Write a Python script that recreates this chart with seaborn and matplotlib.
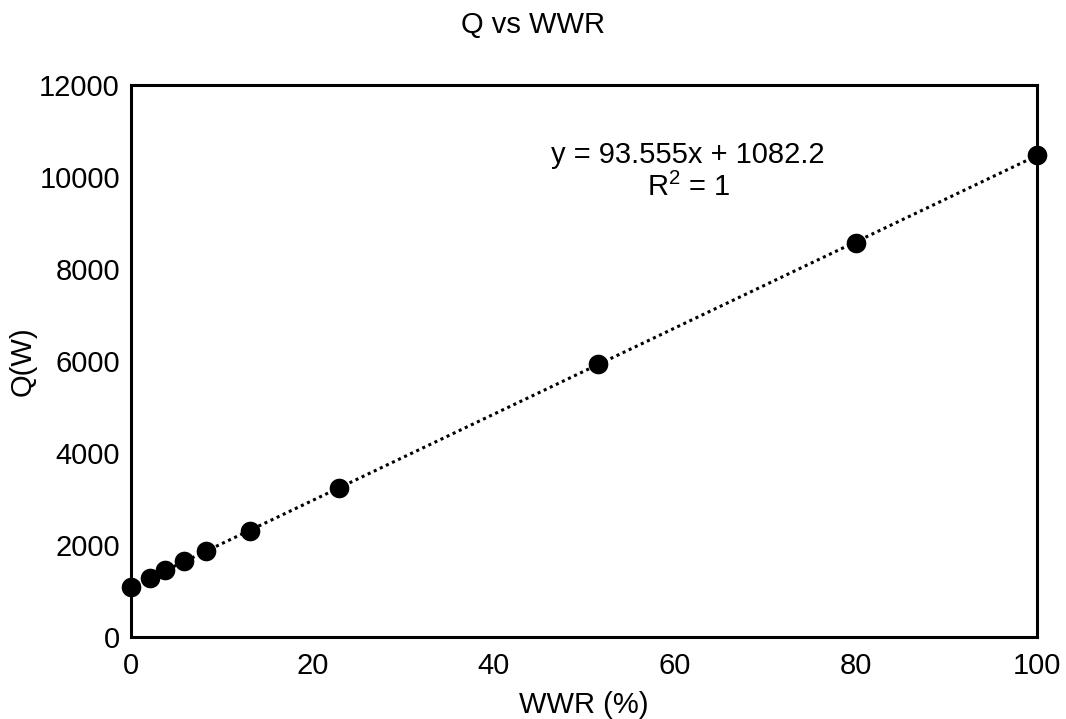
import numpy as np
import pandas as pd
import matplotlib
matplotlib.use("Agg")
import matplotlib.pyplot as plt
import seaborn as sns

# Values
wwr = [0.0, 2.1, 3.7, 5.8, 8.3, 13.1, 23.0, 51.5, 80.0, 100.0]
q_watts = [1090, 1290, 1450, 1650, 1860, 2310, 3230, 5930, 8570, 10480]
x_ticks = [0, 20, 40, 60, 80, 100]
y_ticks = [0, 2000, 4000, 6000, 8000, 10000, 12000]

df = pd.DataFrame({"WWR": wwr, "Q": q_watts})

sns.set_style("white")
plt.rcParams["font.family"] = ["Liberation Sans", "DejaVu Sans"]
plt.rcParams["text.color"] = "black"
plt.rcParams["axes.labelcolor"] = "black"
plt.rcParams["xtick.color"] = "black"
plt.rcParams["ytick.color"] = "black"

fig = plt.figure(figsize=(10.66, 7.19), dpi=100)
ax = fig.add_axes([0.1229, 0.114, 0.8499, 0.7678])

# Linear trendline (dotted) plus the data points
sns.regplot(data=df, x="WWR", y="Q", ci=None, ax=ax,
            scatter_kws={"s": 200, "color": "black", "alpha": 1, "zorder": 3,
                         "linewidths": 0, "clip_on": False},
            line_kws={"color": "black", "linestyle": (0, (1, 1.2)), "linewidth": 2.2})

ax.set_xlim(0, 100)
ax.set_ylim(0, 12000)
ax.set_xticks(x_ticks)
ax.set_yticks(y_ticks)
ax.tick_params(labelsize=21, length=0)
ax.tick_params(axis="x", pad=11)
ax.tick_params(axis="y", pad=8)
for s in ax.spines.values():
    s.set_color("black")
    s.set_linewidth(2.2)
    s.set_zorder(2)

ax.set_xlabel("WWR (%)", fontsize=21, labelpad=8)
ax.set_ylabel("Q(W)", fontsize=21, labelpad=2)
fig.suptitle("Q vs WWR", fontsize=21, y=0.985)

ax.text(61.5, 10470, "y = 93.555x + 1082.2", fontsize=21, ha="center", va="center")
ax.text(61.5, 9780, r"R$^{\mathregular{2}}$ = 1", fontsize=21, ha="center", va="center")

plt.savefig("out.png", dpi=100)
